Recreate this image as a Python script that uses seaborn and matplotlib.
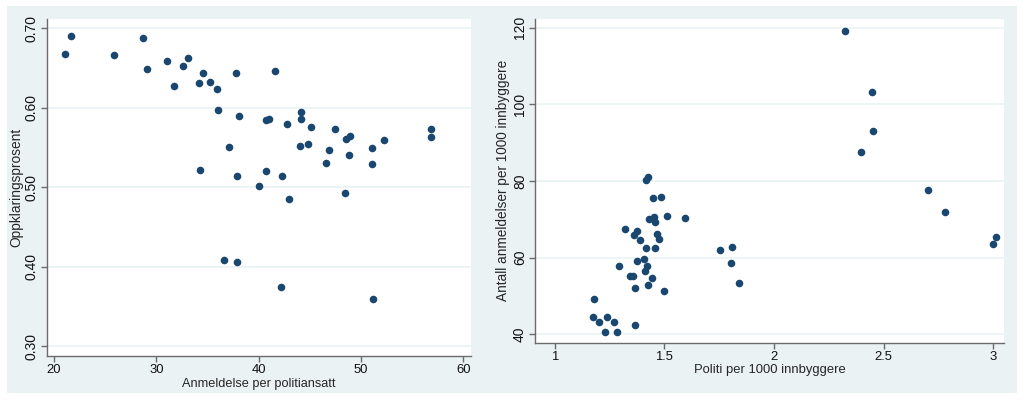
import matplotlib
matplotlib.use("Agg")
import matplotlib.pyplot as plt
import seaborn as sns
import pandas as pd
from matplotlib.patches import Rectangle

# --- data ---
# left panel: reports per police employee vs. clearance rate
anm_per_ansatt = [21.1, 21.7, 25.9, 28.7, 29.1, 31.1, 31.7, 32.6, 33.1, 34.2,
                  34.6, 35.3, 35.9, 36.0, 37.8, 38.1, 41.6, 40.7, 41.0, 37.1,
                  34.3, 37.9, 40.7, 40.0, 42.3, 42.8, 43.0, 44.1, 44.1, 44.0,
                  44.8, 45.1, 47.5, 46.9, 46.6, 48.5, 48.9, 48.8, 48.4, 51.1,
                  51.1, 52.2, 56.8, 56.8, 36.6, 37.9, 42.2, 51.2]
oppklaring = [0.667, 0.690, 0.666, 0.687, 0.649, 0.659, 0.627, 0.652, 0.662, 0.631,
              0.644, 0.632, 0.623, 0.597, 0.643, 0.589, 0.646, 0.585, 0.586, 0.550,
              0.522, 0.514, 0.521, 0.502, 0.514, 0.579, 0.485, 0.595, 0.586, 0.552,
              0.554, 0.576, 0.573, 0.547, 0.531, 0.561, 0.565, 0.541, 0.493, 0.549,
              0.529, 0.559, 0.573, 0.563, 0.408, 0.406, 0.375, 0.359]

# right panel: police per 1000 inhabitants vs. reports per 1000 inhabitants
politi_per_1000 = [2.325, 2.449, 2.454, 2.398, 2.702, 2.781, 2.998, 3.012, 1.756, 1.809,
                   1.802, 1.841, 1.595, 1.511, 1.485, 1.450, 1.415, 1.426, 1.430, 1.452,
                   1.459, 1.321, 1.374, 1.363, 1.389, 1.465, 1.476, 1.418, 1.456, 1.408,
                   1.373, 1.421, 1.292, 1.412, 1.344, 1.356, 1.443, 1.423, 1.365, 1.497,
                   1.178, 1.172, 1.239, 1.201, 1.268, 1.367, 1.227, 1.283]
anm_per_1000 = [119.1, 103.3, 93.1, 87.7, 77.6, 72.0, 63.5, 65.3, 62.1, 62.7,
                58.7, 53.5, 70.3, 70.9, 75.9, 75.7, 80.3, 81.0, 70.0, 70.6,
                69.2, 67.5, 67.0, 65.9, 64.7, 66.2, 65.0, 62.5, 62.5, 59.6,
                59.0, 57.9, 57.9, 56.6, 55.2, 55.2, 54.8, 52.9, 52.0, 51.4,
                49.1, 44.5, 44.5, 43.3, 43.3, 42.5, 40.6, 40.6]

left_xticks = [20, 30, 40, 50, 60]
left_yticks = [0.30, 0.40, 0.50, 0.60, 0.70]
right_xticks = [1, 1.5, 2, 2.5, 3]
right_yticks = [40, 60, 80, 100, 120]

df_left = pd.DataFrame({"x": anm_per_ansatt, "y": oppklaring})
df_right = pd.DataFrame({"x": politi_per_1000, "y": anm_per_1000})

sns.set_theme(style="white")
plt.rcParams["font.family"] = ["Liberation Sans", "DejaVu Sans"]

navy = "#1a476f"
panel_bg = "#eaf2f3"
axis_grey = "#6b6b6b"

fig = plt.figure(figsize=(10.24, 4.01), dpi=100, facecolor="white")
fig.patches.append(Rectangle((7 / 1024, 8 / 401), 1010 / 1024, 387 / 401,
                             transform=fig.transFigure, facecolor=panel_bg,
                             edgecolor="none", zorder=-10))

ax1 = fig.add_axes([0.0456, 0.1122, 0.4144, 0.8397])
ax2 = fig.add_axes([0.5228, 0.1454, 0.4577, 0.8072])


def style_axes(ax, xticks, yticks, xlim, ylim, xlabels, ylabels):
    ax.set_facecolor("white")
    ax.set_xlim(*xlim)
    ax.set_ylim(*ylim)
    ax.set_xticks(xticks, xlabels)
    ax.set_yticks(yticks, ylabels)
    ax.yaxis.grid(True, color=panel_bg, linewidth=1.2)
    ax.xaxis.grid(False)
    ax.set_axisbelow(True)
    for side in ["top", "right"]:
        ax.spines[side].set_visible(False)
    for side in ["left", "bottom"]:
        ax.spines[side].set_color(axis_grey)
        ax.spines[side].set_linewidth(1.0)
    ax.tick_params(axis="both", direction="out", length=4, width=1.0,
                   color=axis_grey, labelcolor="#111111", pad=2)
    ax.tick_params(axis="x", bottom=True, labelsize=9.4)
    ax.tick_params(axis="y", left=True, labelsize=10)
    for lab in ax.get_yticklabels():
        lab.set_rotation(90)
        lab.set_va("center")


sns.scatterplot(data=df_left, x="x", y="y", ax=ax1, color=navy, s=30,
                linewidth=0, zorder=3)
style_axes(ax1, left_xticks, left_yticks, (19.3, 60.75), (0.288, 0.711),
           [str(v) for v in left_xticks], [f"{v:.2f}" for v in left_yticks])
ax1.set_xlabel("Anmeldelse per politiansatt", fontsize=9.2, labelpad=1)
ax1.set_ylabel("Oppklaringsprosent", fontsize=9.9, labelpad=1)

sns.scatterplot(data=df_right, x="x", y="y", ax=ax2, color=navy, s=30,
                linewidth=0, zorder=3)
style_axes(ax2, right_xticks, right_yticks, (0.911, 3.05), (37.8, 122.3),
           ["1", "1.5", "2", "2.5", "3"], [str(v) for v in right_yticks])
ax2.set_xlabel("Politi per 1000 innbyggere", fontsize=9.4, labelpad=1)
ax2.set_ylabel("Antall anmeldelser per 1000 innbyggere", fontsize=9.8, labelpad=2)

fig.savefig("out.png", dpi=100, facecolor="white")
